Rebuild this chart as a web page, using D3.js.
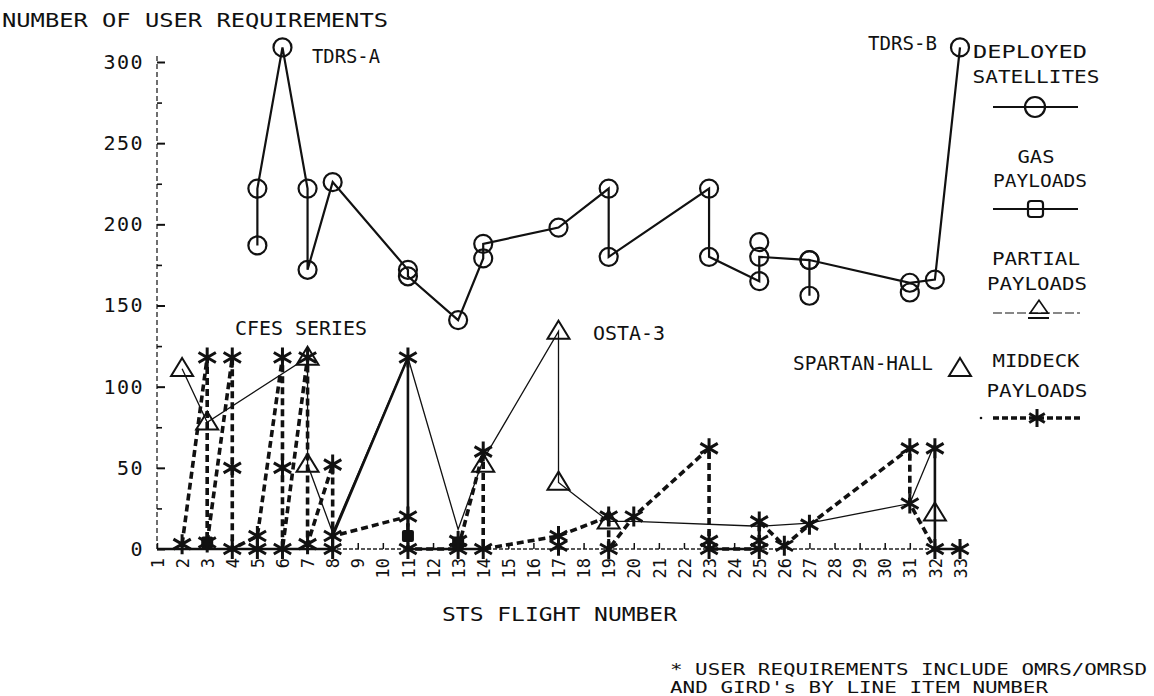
<!DOCTYPE html>
<html><head><meta charset="utf-8">
<script src="https://cdn.jsdelivr.net/npm/d3@7/dist/d3.min.js"></script>
<style>
body{margin:0;background:#fff}
text{font-family:"DejaVu Sans Mono",monospace;fill:#111}
</style>
</head><body>
<svg id="chart" width="1154" height="696"></svg>
<script>
// ---------- data ----------
const flightTicks = [1,2,3,4,5,6,7,8,9,10,11,12,13,14,15,16,17,18,19,20,21,22,23,24,25,26,27,28,29,30,31,32,33];
const yTicks = [0,50,100,150,200,250,300];
const yMinorTicks = [25,75,125,175,225,275];

// Deployed satellites (circles, solid line) - path order
const satFlight = [5,5,6,7,7,8,11,11,13,14,14,17,19,19,23,23,25,25,27,27,27,31,32,33];
const satValue  = [187,222,309,222,172,226,172,168,141,179,188,198,222,180,222,180,165,180,178,156,178,164,166,309];
const satExtraFlight = [25,31];
const satExtraValue  = [189,158];

// GAS payloads (squares, solid line); null = break in line
const gasFlight = [1,8,8,11,11,14,14,23,25,25,32,32,33];
const gasValue  = [0,0,8,118,0,0,null,0,0,null,62,0,0];
const gasMarkFlight = [3,11,13];
const gasMarkValue  = [4,8,4];

// Partial payloads (triangles, thin line)
const ppFlight = [2,3,7,7,8,11,13,14,17,17,19,20,25,27,31,32,32];
const ppValue  = [111,78,118,52,10,118,12,55,134,41,17,17,14,16,28,65,22];
const ppMarkFlight = [2,3,7,7,14,17,17,19,32,33];
const ppMarkValue  = [111,78,118,52,52,134,41,17,22,111];

// Middeck payloads (stars, dashed line)
const mdFlight = [2,3,3,4,4,5,6,6,7,7,8,8,11,11,13,14,14,17,19,19,20,23,23,25,25,26,27,31,31,32];
const mdValue  = [3,118,4,118,0,8,118,0,118,3,52,8,20,0,0,60,0,8,20,0,20,62,0,0,17,2,15,62,28,0];
const mdExtraFlight = [4,5,6,8,11,13,17,23,25,32,33];
const mdExtraValue  = [50,0,50,0,118,5,2,5,5,62,0];

const legendTitles = [["DEPLOYED","SATELLITES"],["GAS","PAYLOADS"],["PARTIAL","PAYLOADS"],["MIDDECK","PAYLOADS"]];

// ---------- setup ----------
const svg = d3.select("#chart");
svg.append("rect").attr("width",1154).attr("height",696).attr("fill","#fff");
const x = d3.scaleLinear().domain([1,33]).range([157,960]);
const y = d3.scaleLinear().domain([0,300]).range([549,62]);

function label(t, px, py, len, size, anchor){
  const el = svg.append("text").attr("x",px).attr("y",py).text(t)
    .attr("font-size",size).attr("text-anchor",anchor||"start");
  if(len){ el.attr("textLength",len).attr("lengthAdjust","spacingAndGlyphs"); }
  return el;
}

// ---------- axes ----------
// y axis line (dashed, scanned look)
svg.append("line").attr("x1",157).attr("x2",157).attr("y1",y(0)).attr("y2",y(300)-8)
  .attr("stroke","#222").attr("stroke-width",1.3).attr("stroke-dasharray","5,3");
const yAxis = svg.append("g").attr("transform","translate(157,0)")
  .call(d3.axisLeft(y).tickValues(yTicks).tickSize(-8).tickPadding(13));
yAxis.select(".domain").remove();
yAxis.selectAll(".tick line").attr("stroke","#111").attr("stroke-width",2);
yAxis.selectAll(".tick text").attr("font-size",20).attr("letter-spacing",1.5).attr("fill","#111")
  .style("font-family","'DejaVu Sans Mono',monospace");
const yMinor = svg.append("g").attr("transform","translate(157,0)")
  .call(d3.axisLeft(y).tickValues(yMinorTicks).tickSize(-5).tickFormat(""));
yMinor.select(".domain").remove();
yMinor.selectAll(".tick line").attr("stroke","#111").attr("stroke-width",1.6);

// x axis
svg.append("line").attr("x1",x(1)).attr("x2",x(33)).attr("y1",y(0)).attr("y2",y(0))
  .attr("stroke","#222").attr("stroke-width",1.3).attr("stroke-dasharray","4,2");
const xAxis = svg.append("g").attr("transform",`translate(0,${y(0)})`)
  .call(d3.axisBottom(x).tickValues(flightTicks).tickSize(-6).tickFormat(d3.format("d")));
xAxis.select(".domain").remove();
xAxis.selectAll(".tick line").attr("stroke","#111").attr("stroke-width",1.5);
xAxis.selectAll(".tick text")
  .attr("transform","rotate(-90)").attr("text-anchor","end")
  .attr("x",-9).attr("y",0).attr("dy","0.36em")
  .attr("font-size",17).attr("fill","#111")
  .style("font-family","'DejaVu Sans Mono',monospace");

// ---------- lines ----------
function pts(fs, vs){ return fs.map((f,i)=>({f:f, v:vs[i]})); }
const line = d3.line().defined(d=>d.v!==null).x(d=>x(d.f)).y(d=>y(d.v));

svg.append("path").datum(pts(ppFlight,ppValue)).attr("d",line)
  .attr("fill","none").attr("stroke","#111").attr("stroke-width",1.3);
svg.append("path").datum(pts(gasFlight,gasValue)).attr("d",line)
  .attr("fill","none").attr("stroke","#111").attr("stroke-width",2.6);
svg.append("path").datum(pts(mdFlight,mdValue)).attr("d",line)
  .attr("fill","none").attr("stroke","#111").attr("stroke-width",3.6)
  .attr("stroke-dasharray","7,4");
svg.append("path").datum(pts(satFlight,satValue)).attr("d",line)
  .attr("fill","none").attr("stroke","#111").attr("stroke-width",2.2);

// ---------- markers ----------
function starPath(r){
  let p="";
  [90,30,150].forEach(a=>{
    const t=a*Math.PI/180, dx=r*Math.cos(t), dy=r*Math.sin(t);
    p+=`M${-dx},${-dy}L${dx},${dy}`;
  });
  return p;
}
function triPath(w,h){ return `M0,${-h*0.6}L${w/2},${h*0.4}L${-w/2},${h*0.4}Z`; }

const satPts = pts(satFlight,satValue).concat(pts(satExtraFlight,satExtraValue));
svg.append("g").selectAll("circle").data(satPts).join("circle")
  .attr("cx",d=>x(d.f)).attr("cy",d=>y(d.v)).attr("r",9)
  .attr("fill","none").attr("stroke","#111").attr("stroke-width",2.2);

svg.append("g").selectAll("path").data(pts(ppMarkFlight,ppMarkValue)).join("path")
  .attr("transform",d=>`translate(${x(d.f)},${y(d.v)})`).attr("d",triPath(22,18))
  .attr("fill","#fff").attr("fill-opacity",0).attr("stroke","#111").attr("stroke-width",2);

svg.append("g").selectAll("rect").data(pts(gasMarkFlight,gasMarkValue)).join("rect")
  .attr("x",d=>x(d.f)-6).attr("y",d=>y(d.v)-6).attr("width",12).attr("height",12)
  .attr("rx",2).attr("fill","#111");

const mdPts = pts(mdFlight,mdValue).concat(pts(mdExtraFlight,mdExtraValue));
svg.append("g").selectAll("path").data(mdPts).join("path")
  .attr("transform",d=>`translate(${x(d.f)},${y(d.v)})`).attr("d",starPath(10))
  .attr("fill","none").attr("stroke","#111").attr("stroke-width",3);

// ---------- annotations ----------
label("NUMBER OF USER REQUIREMENTS", 2, 27, 386, 20);
label("TDRS-A", 312, 63, 68, 19);
label("TDRS-B", 868, 50, 69, 19);
label("CFES SERIES", 235, 335, 132, 19);
label("OSTA-3", 593, 340, 72, 19);
label("SPARTAN-HALL", 793, 370, 140, 19);
label("STS FLIGHT NUMBER", 442, 621, 235, 19);
label("* USER REQUIREMENTS INCLUDE OMRS/OMRSD", 670, 675, 477, 16);
label("AND GIRD's BY LINE ITEM NUMBER", 670, 693, 378, 16);

// ---------- legend ----------
const lg = [
  {t:legendTitles[0], b:[58,83], w:[114,127], cx:[1030,1036], sy:107},
  {t:legendTitles[1], b:[163,187], w:[37,94], cx:[1036,1040], sy:209},
  {t:legendTitles[2], b:[265,290], w:[88,100], cx:[1036,1037], sy:313},
  {t:legendTitles[3], b:[367,397], w:[87,101], cx:[1036,1037], sy:418}
];
lg.forEach(e=>{
  e.t.forEach((s,i)=>label(s, e.cx[i], e.b[i], e.w[i], 18, "middle"));
});
// deployed
svg.append("line").attr("x1",993).attr("x2",1078).attr("y1",107).attr("y2",107).attr("stroke","#111").attr("stroke-width",2);
svg.append("circle").attr("cx",1035).attr("cy",107).attr("r",10).attr("fill","none").attr("stroke","#111").attr("stroke-width",2.2);
// gas
svg.append("line").attr("x1",993).attr("x2",1078).attr("y1",209).attr("y2",209).attr("stroke","#111").attr("stroke-width",2);
svg.append("rect").attr("x",1028).attr("y",201).attr("width",15).attr("height",16).attr("rx",3).attr("fill","none").attr("stroke","#111").attr("stroke-width",2.2);
// partial
svg.append("line").attr("x1",993).attr("x2",1080).attr("y1",313).attr("y2",313).attr("stroke","#111").attr("stroke-width",1.2).attr("stroke-dasharray","9,3");
svg.append("path").attr("transform","translate(1039,308)").attr("d",triPath(18,13)).attr("fill","none").attr("stroke","#111").attr("stroke-width",1.6);
svg.append("line").attr("x1",1028).attr("x2",1049).attr("y1",318).attr("y2",318).attr("stroke","#111").attr("stroke-width",2);
// middeck
svg.append("line").attr("x1",993).attr("x2",1080).attr("y1",418).attr("y2",418).attr("stroke","#111").attr("stroke-width",3.4).attr("stroke-dasharray","6,3");
svg.append("circle").attr("cx",981).attr("cy",418).attr("r",1.3).attr("fill","#111");
svg.append("path").attr("transform","translate(1037,418)").attr("d",starPath(9)).attr("fill","none").attr("stroke","#111").attr("stroke-width",3);
</script>
</body></html>
